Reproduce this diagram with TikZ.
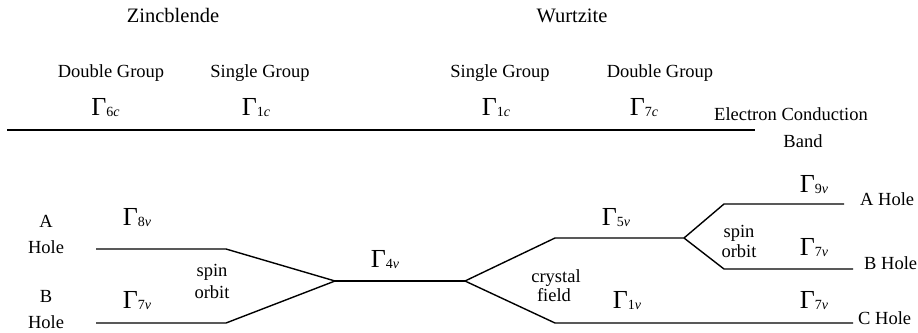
\documentclass[tikz,border=0pt]{standalone}
\usepackage{fontspec}
\setmainfont{Liberation Serif}
\newcommand\Gm[2]{{\fontsize{26}{26}\selectfont Γ}\raisebox{-1pt}{\fontsize{14}{14}\selectfont #1\textit{#2}}}
\tikzset{
  txt/.style={font=\fontsize{18.5}{20}\selectfont, inner sep=0pt, anchor=base},
  head/.style={font=\fontsize{20.5}{22}\selectfont, inner sep=0pt, anchor=base},
  gam/.style={inner sep=0pt, anchor=base},
  lvl/.style={line width=1.4pt, line join=miter}
}
\begin{document}
\begin{tikzpicture}[x=1pt,y=-1pt]
\useasboundingbox (0,0) rectangle (918,332);
% headings
\node[head] (zb) at (173,23) {Zincblende};
\node[head] (wz) at (572,23) {Wurtzite};
\node[txt] (dg1) at (111,77) {Double Group};
\node[txt] (sg1) at (260,77) {Single Group};
\node[txt] (sg2) at (500,77) {Single Group};
\node[txt] (dg2) at (660,77) {Double Group};
\node[gam] (g6c) at (105.5,115) {\Gm{6}{c}};
\node[gam] (g1c) at (256,115) {\Gm{1}{c}};
\node[gam] (g1cw) at (496,115) {\Gm{1}{c}};
\node[gam] (g7c) at (644,115) {\Gm{7}{c}};
\node[txt] (ec) at (791,120) {Electron Conduction};
\node[txt] (band) at (803,147) {Band};
% left labels
\node[txt] (A) at (46,227) {A};
\node[txt] (Ah) at (46,253) {Hole};
\node[txt] (B) at (46,302) {B};
\node[txt] (Bh) at (46,328) {Hole};
\node[gam] (g8v) at (137,225) {\Gm{8}{v}};
\node[gam] (g7vl) at (137,308) {\Gm{7}{v}};
\node[txt] (so1a) at (212,276) {spin};
\node[txt] (so1b) at (212,298) {orbit};
\node[gam] (g4v) at (385,267) {\Gm{4}{v}};
\node[txt] (cfa) at (556,282) {crystal};
\node[txt] (cfb) at (554,301) {field};
\node[gam] (g5v) at (616,225) {\Gm{5}{v}};
\node[gam] (g1v) at (627,308) {\Gm{1}{v}};
\node[txt] (so2a) at (739,237) {spin};
\node[txt] (so2b) at (739,257) {orbit};
\node[gam] (g9v) at (814,192) {\Gm{9}{v}};
\node[gam] (g7vm) at (814,255) {\Gm{7}{v}};
\node[gam] (g7vb) at (814,308) {\Gm{7}{v}};
\node[txt, anchor=base west] (AH) at (860,205) {A Hole};
\node[txt, anchor=base west] (BH) at (864,269) {B Hole};
\node[txt, anchor=base west] (CH) at (858,324) {C Hole};
% level coordinates
\coordinate (cbL) at (7,130);
\coordinate (cbR) at (755,130);
\coordinate (aL) at (96,249);
\coordinate (aR) at (226,249);
\coordinate (bL) at (96,323);
\coordinate (bR) at (226,323);
\coordinate (m) at (335,281);
\coordinate (mR) at (465,281);
\coordinate (g5L) at (555,238);
\coordinate (g5R) at (684,238);
\coordinate (cL) at (555,323);
\coordinate (cR) at (853,323);
\coordinate (g9L) at (724,204);
\coordinate (g9R) at (844,204);
\coordinate (g7L) at (724,269);
\coordinate (g7R) at (853,269);
% levels
\draw[lvl] (cbL) -- (cbR);
\draw[lvl] (aL) -- (aR) -- (m);
\draw[lvl] (bL) -- (bR) -- (m);
\draw[lvl] (m) -- (mR);
\draw[lvl] (mR) -- (g5L) -- (g5R);
\draw[lvl] (mR) -- (cL) -- (cR);
\draw[lvl] (g5R) -- (g9L) -- (g9R);
\draw[lvl] (g5R) -- (g7L) -- (g7R);
\end{tikzpicture}
\end{document}
